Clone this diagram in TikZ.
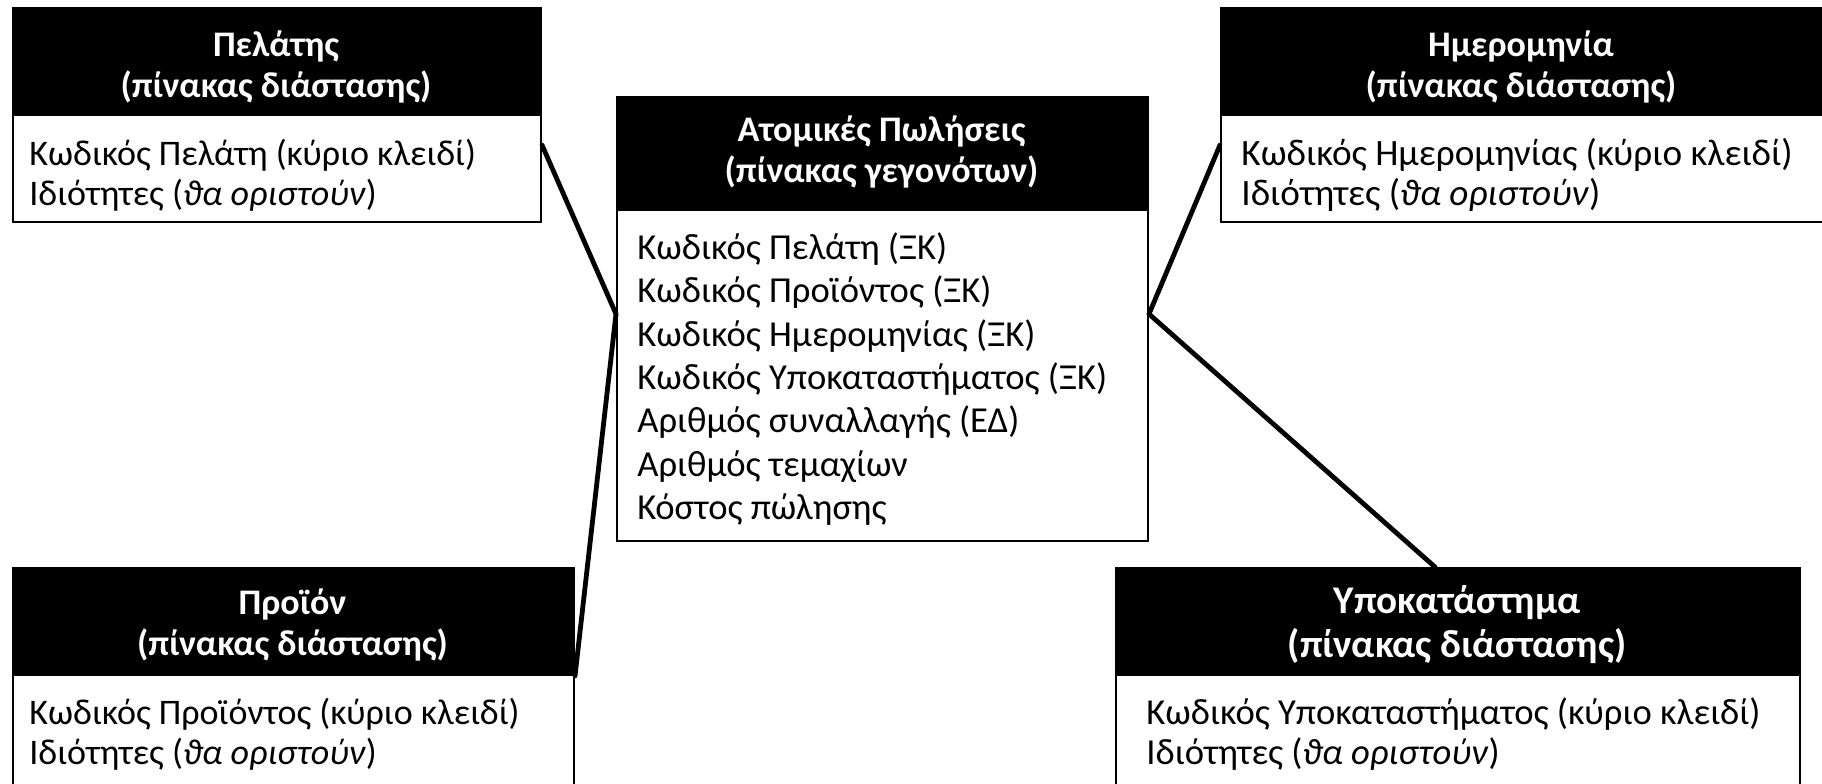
\documentclass[tikz,border=0pt]{standalone}
\usepackage{fontspec}
\setmainfont{Carlito}
\usetikzlibrary{calc}
\begin{document}
\begin{tikzpicture}[x=0.5pt,y=-0.5pt,
  headbox/.style={draw=black,fill=black,line width=1pt,anchor=north west,inner sep=0pt},
  bodybox/.style={draw=black,fill=white,line width=1pt,anchor=north west,inner sep=0pt},
  title/.style={text=white,align=center,inner sep=0pt,
    font=\bfseries\fontsize{18}{20.2}\selectfont},
  fields/.style={anchor=west,align=left,inner sep=0pt,
    font=\fontsize{18}{19.8}\selectfont},
  factfields/.style={fields,font=\fontsize{18.3}{21.65}\selectfont},
  link/.style={draw=black,line width=2.4pt,line cap=round}]
\useasboundingbox (0,0) rectangle (1822,783);

% customer dimension table
\node[headbox,minimum width=264pt,minimum height=53.5pt] (pel-head) at (12,7) {};
\node[bodybox,minimum width=264pt,minimum height=53.5pt] (pel-body) at (12,114) {};
\node[title] (pel-title) at (276,67) {Πελάτης\\(πίνακας διάστασης)};
\node[fields] (pel-fields) at (29,175)
  {Κωδικός Πελάτη (κύριο κλειδί)\\Ιδιότητες (\textit{ϑα οριστούν})};

% date dimension table
\node[headbox,minimum width=302pt,minimum height=53.5pt] (date-head) at (1220,7) {};
\node[bodybox,minimum width=302pt,minimum height=53.5pt] (date-body) at (1220,114) {};
\node[title] (date-title) at (1521,67) {Ημερομηνία\\(πίνακας διάστασης)};
\node[fields,font=\fontsize{18.6}{20.2}\selectfont] (date-fields) at (1241,175)
  {Κωδικός Ημερομηνίας (κύριο κλειδί)\\Ιδιότητες (\textit{ϑα οριστούν})};

% fact table
\node[headbox,minimum width=265.5pt,minimum height=56.5pt] (fact-head) at (616,96) {};
\node[bodybox,minimum width=265.5pt,minimum height=165.5pt] (fact-body) at (616,209) {};
\node[title] (fact-title) at (881.5,152) {Ατομικές Πωλήσεις\\(πίνακας γεγονότων)};
\node[factfields] (fact-fields) at (637,379)
  {Κωδικός Πελάτη (ΞΚ)\\Κωδικός Προϊόντος (ΞΚ)\\Κωδικός Ημερομηνίας (ΞΚ)\\
   Κωδικός Υποκαταστήματος (ΞΚ)\\Αριθμός συναλλαγής (ΕΔ)\\Αριθμός τεμαχίων\\Κόστος πώλησης};

% product dimension table
\node[headbox,minimum width=280.5pt,minimum height=53.5pt] (prod-head) at (12,567) {};
\node[bodybox,minimum width=280.5pt,minimum height=58pt] (prod-body) at (12,674) {};
\node[title] (prod-title) at (292.5,625) {Προϊόν\\(πίνακας διάστασης)};
\node[fields] (prod-fields) at (29,734)
  {Κωδικός Προϊόντος (κύριο κλειδί)\\Ιδιότητες (\textit{ϑα οριστούν})};

% branch dimension table
\node[headbox,minimum width=342pt,minimum height=53.5pt] (br-head) at (1115,567) {};
\node[bodybox,minimum width=342pt,minimum height=58pt] (br-body) at (1115,674) {};
\node[title,font=\bfseries\fontsize{19.6}{22}\selectfont] (br-title) at (1457,625)
  {Υποκατάστημα\\(πίνακας διάστασης)};
\node[fields,font=\fontsize{18.3}{20.3}\selectfont] (br-fields) at (1146,734)
  {Κωδικός Υποκαταστήματος (κύριο κλειδί)\\Ιδιότητες (\textit{ϑα οριστούν})};

% star-schema links
\draw[link] ($(pel-body.north east)+(0,31)$) -- ($(fact-body.north west)+(0,105)$);
\draw[link] (prod-head.south east) -- ($(fact-body.north west)+(0,105)$);
\draw[link] ($(date-body.north west)+(0,31)$) -- ($(fact-body.north east)+(0,105)$);
\draw[link] ($(fact-body.north east)+(0,105)$) -- ($(br-head.north west)+(320,0)$);
\end{tikzpicture}
\end{document}
